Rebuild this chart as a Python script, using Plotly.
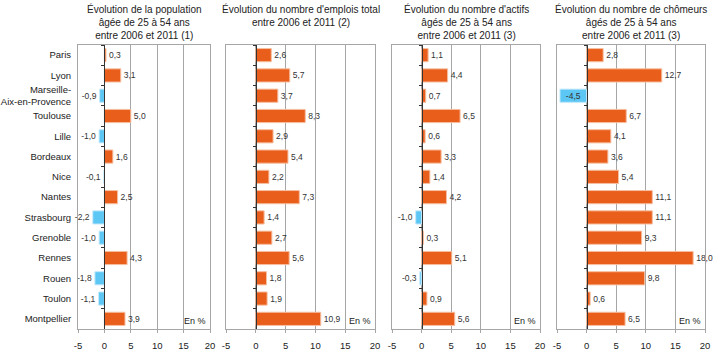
import plotly.graph_objects as go

cities = ["Paris", "Lyon", "Marseille-<br>Aix-en-Provence", "Toulouse", "Lille", "Bordeaux",
          "Nice", "Nantes", "Strasbourg", "Grenoble", "Rennes", "Rouen", "Toulon", "Montpellier"]

pop = [0.3, 3.1, -0.9, 5.0, -1.0, 1.6, -0.1, 2.5, -2.2, -1.0, 4.3, -1.8, -1.1, 3.9]
emplois = [2.6, 5.7, 3.7, 8.3, 2.9, 5.4, 2.2, 7.3, 1.4, 2.7, 5.6, 1.8, 1.9, 10.9]
actifs = [1.1, 4.4, 0.7, 6.5, 0.6, 3.3, 1.4, 4.2, -1.0, 0.3, 5.1, -0.3, 0.9, 5.6]
chomeurs = [2.8, 12.7, -4.5, 6.7, 4.1, 3.6, 5.4, 11.1, 11.1, 9.3, 18.0, 9.8, 0.6, 6.5]

titles = [
    "Évolution de la population<br>âgée de 25 à 54 ans<br>entre 2006 et 2011 (1)",
    "Évolution du nombre d'emplois total<br>entre 2006 et 2011 (2)",
    "Évolution du nombre d'actifs<br>âgés de 25 à 54 ans<br>entre 2006 et 2011 (3)",
    "Évolution du nombre de chômeurs<br>âgés de 25 à 54 ans<br>entre 2006 et 2011 (3)",
]
series = [pop, emplois, actifs, chomeurs]
x_range = [-5, 20]
x_ticks = [-5, 0, 5, 10, 15, 20]
x_tick_labels = ["-5", "0", "5", "10", "15", "20"]

W, H = 716, 354
px_domains = [(78, 210), (226, 375), (392, 540), (557, 705)]
y_dom = [(H - 329) / H, (H - 45) / H]

FONT = "Liberation Sans, Arial, sans-serif"
ORANGE = "#EA5E1C"
BLUE = "#5CC6F4"
GRID = "#A6A6A6"

fig = go.Figure()
layout = dict(
    width=W, height=H, margin=dict(l=0, r=0, t=0, b=0, autoexpand=False),
    paper_bgcolor="white", plot_bgcolor="white",
    showlegend=False, font=dict(family=FONT, size=10, color="#222"),
    annotations=[],
)

n = len(series)
for i, vals in enumerate(series):
    k = i + 1
    xa = "x" if k == 1 else f"x{k}"
    ya = "y" if k == 1 else f"y{k}"
    oy_num = n + k
    oya = f"y{oy_num}"
    d0, d1 = px_domains[i][0] / W, px_domains[i][1] / W
    zero_pos = d0 + (0 - x_range[0]) / (x_range[1] - x_range[0]) * (d1 - d0)

    colors = [ORANGE if v >= 0 else BLUE for v in vals]
    lines = ["#F6BFA0" if v >= 0 else "#C4E9FB" for v in vals]
    texts = [f"{v:.1f}".replace(".", ",") for v in vals]
    positions = ["inside" if v < -4 else "outside" for v in vals]

    fig.add_trace(go.Bar(
        x=vals, y=cities, orientation="h", xaxis=xa, yaxis=ya,
        marker=dict(color=colors, line=dict(color=lines, width=1)),
        width=0.65, text=texts, textposition=positions,
        insidetextanchor="middle", constraintext="none", cliponaxis=False,
        textfont=dict(size=8.5, color="#333", family=FONT),
        insidetextfont=dict(size=8.5, color="#333", family=FONT),
        outsidetextfont=dict(size=8.5, color="#333", family=FONT),
        textangle=0, hoverinfo="skip",
    ))
    # invisible trace for the zero axis
    fig.add_trace(go.Scatter(
        x=[0] * len(cities), y=cities, xaxis=xa, yaxis=oya, mode="markers",
        marker=dict(opacity=0), hoverinfo="skip",
    ))

    layout["xaxis" if k == 1 else f"xaxis{k}"] = dict(
        domain=[d0, d1], anchor=ya, range=x_range,
        tickvals=x_ticks, ticktext=x_tick_labels,
        showgrid=True, gridcolor=GRID, gridwidth=1, zeroline=False,
        showline=True, linecolor=GRID, linewidth=1, mirror=True,
        ticks="outside", ticklen=3, tickcolor=GRID, automargin=False,
        ticklabelstandoff=5,
        tickfont=dict(size=9.5, color="#222"), fixedrange=True,
    )
    layout["yaxis" if k == 1 else f"yaxis{k}"] = dict(
        domain=y_dom, anchor=xa, type="category", categoryarray=cities,
        range=[len(cities) - 0.5, -0.5], showgrid=False, zeroline=False,
        showline=True, linecolor=GRID, linewidth=1, mirror=True,
        ticks="", showticklabels=(k == 1), automargin=False,
        tickfont=dict(size=9.5, color="#222"), ticklabelstandoff=4,
    )
    layout[f"yaxis{oy_num}"] = dict(
        domain=y_dom, overlaying=ya, anchor="free", position=zero_pos,
        type="category", categoryarray=cities, automargin=False,
        range=[len(cities) - 0.5, -0.5], showgrid=False, zeroline=False,
        showline=True, linecolor="#333", linewidth=1,
        ticks="outside", ticklen=3, tickcolor="#333", tickson="boundaries",
        showticklabels=False, side="left",
    )
    layout["annotations"].append(dict(
        text=titles[i], xref=f"{xa} domain", yref="paper", x=0.5, y=1.0,
        yshift=-1, xanchor="center", yanchor="top", showarrow=False,
        font=dict(size=10, color="#222", family=FONT), align="center",
    ))
    layout["annotations"].append(dict(
        text="En %", xref=f"{xa} domain", yref=f"{ya} domain", x=1, y=0,
        xshift=-2, yshift=1, xanchor="right", yanchor="bottom", showarrow=False,
        font=dict(size=9, color="#222", family=FONT),
    ))

fig.update_layout(**layout)
fig.write_html("out.html")
